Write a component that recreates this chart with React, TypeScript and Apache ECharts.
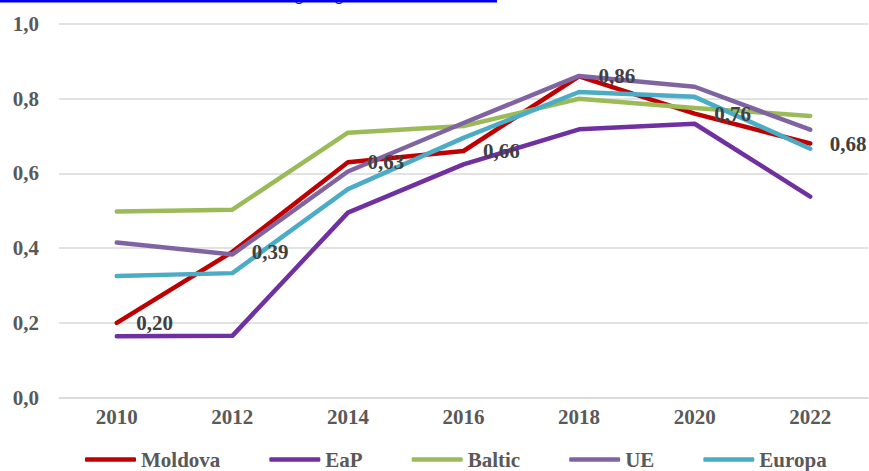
import React, { useEffect, useRef } from "react";
import * as echarts from "echarts";

const years = ["2010", "2012", "2014", "2016", "2018", "2020", "2022"];
const moldova = [0.2, 0.39, 0.63, 0.66, 0.86, 0.76, 0.68];
const eap = [0.164, 0.165, 0.495, 0.624, 0.718, 0.733, 0.538];
const baltic = [0.498, 0.503, 0.709, 0.727, 0.8, 0.775, 0.754];
const ue = [0.415, 0.383, 0.605, 0.735, 0.861, 0.832, 0.717];
const europa = [0.325, 0.333, 0.558, 0.695, 0.818, 0.805, 0.666];

const seriesNames = ["Moldova", "EaP", "Baltic", "UE", "Europa"];
const seriesColors = ["#C00000", "#7030A0", "#9BBB59", "#8064A2", "#4BACC6"];
const seriesData = [moldova, eap, baltic, ue, europa];

const FONT = "Liberation Serif";

export default function App() {
  const ref = useRef<HTMLDivElement>(null);
  useEffect(() => {
    if (!ref.current) return;
    const chart = echarts.init(ref.current, null, { renderer: "svg" });
    const lines = seriesNames.map((name, i) => ({
      name,
      type: "line",
      data: seriesData[i],
      symbol: "none",
      color: seriesColors[i],
      lineStyle: { width: 4.5, color: seriesColors[i], cap: "round", join: "round" },
      z: 2,
    }));
    const labelSeries = {
      name: "MoldovaLabels",
      type: "line",
      data: moldova,
      symbol: "circle",
      symbolSize: 1,
      showSymbol: true,
      itemStyle: { color: "rgba(0,0,0,0)" },
      lineStyle: { width: 0, color: "rgba(0,0,0,0)" },
      z: 5,
      silent: true,
      label: {
        show: true,
        position: "right",
        distance: 19,
        color: "#404040",
        fontFamily: FONT,
        fontWeight: "bold",
        fontSize: 21,
        formatter: (p: any) => p.value.toFixed(2).replace(".", ","),
      },
    };
    chart.setOption({
      animation: false,
      backgroundColor: "#ffffff",
      grid: { left: 59, right: 1, top: 24, bottom: 73.5, containLabel: false },
      legend: {
        data: seriesNames,
        left: 80,
        top: 444,
        itemGap: 49,
        itemWidth: 51,
        itemHeight: 4.5,
        icon: "roundRect",
        textStyle: {
          color: "#595959",
          fontFamily: FONT,
          fontWeight: "bold",
          fontSize: 21,
        },
      },
      xAxis: {
        type: "category",
        data: years,
        boundaryGap: true,
        axisLine: { lineStyle: { color: "#d9d9d9", width: 1.5 } },
        axisTick: { show: false },
        axisLabel: {
          color: "#595959",
          fontFamily: FONT,
          fontWeight: "bold",
          fontSize: 21,
          margin: 9,
        },
      },
      yAxis: {
        type: "value",
        min: 0,
        max: 1,
        interval: 0.2,
        axisLine: { show: false },
        axisTick: { show: false },
        splitLine: { lineStyle: { color: "#d9d9d9", width: 1.5 } },
        axisLabel: {
          color: "#595959",
          fontFamily: FONT,
          fontWeight: "bold",
          fontSize: 21,
          margin: 20,
          formatter: (v: number) => v.toFixed(1).replace(".", ","),
        },
      },
      graphic: [
        { type: "rect", left: 0, top: 0, shape: { x: 0, y: 0, width: 497, height: 2.5 }, style: { fill: "#0000ee" } },
        { type: "arc", shape: { cx: 299, cy: 0, r: 3.5, startAngle: 0, endAngle: Math.PI }, style: { stroke: "#0000ee", lineWidth: 1.2, fill: "none" } },
        { type: "arc", shape: { cx: 339, cy: 0, r: 3.5, startAngle: 0, endAngle: Math.PI }, style: { stroke: "#0000ee", lineWidth: 1.2, fill: "none" } },
      ],
      series: [...lines, labelSeries],
    });
    return () => chart.dispose();
  }, []);
  return (
    <div
      ref={ref}
      style={{ position: "fixed", left: 0, top: 0, width: 869, height: 471 }}
    />
  );
}
